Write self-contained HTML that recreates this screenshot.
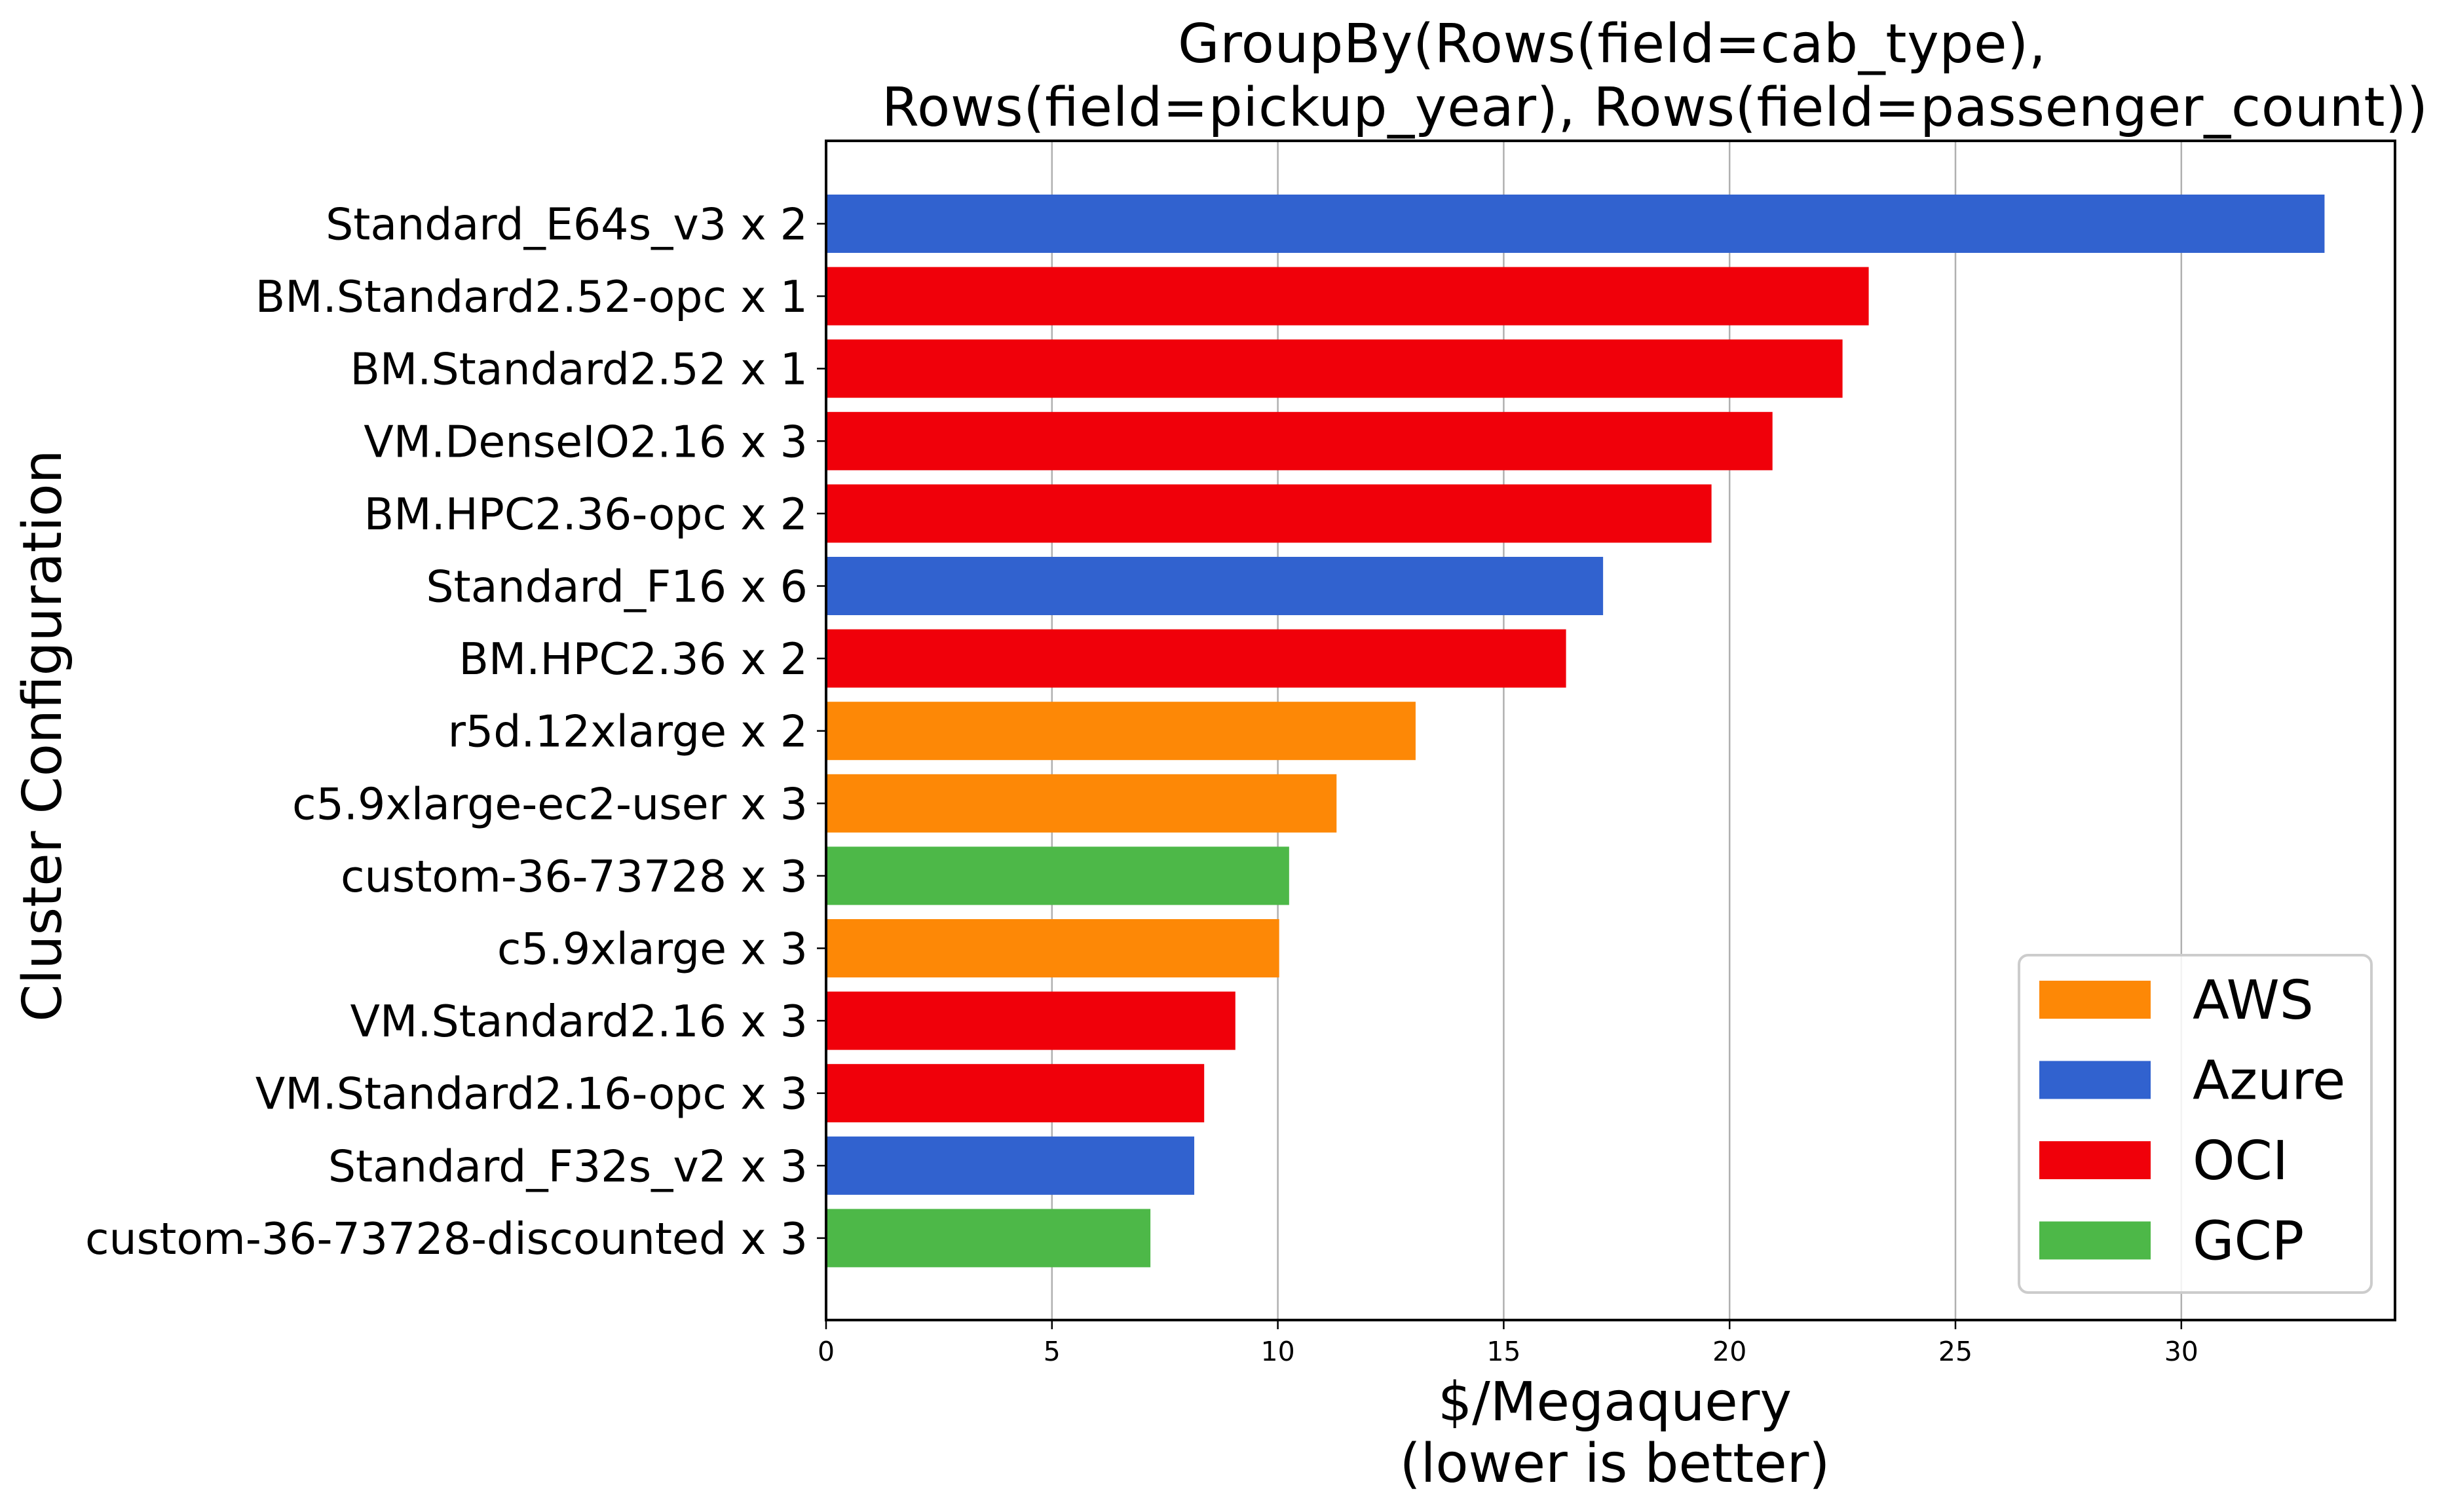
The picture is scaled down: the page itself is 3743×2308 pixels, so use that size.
<!DOCTYPE html>
<html><head><meta charset="utf-8"><style>html,body{margin:0;padding:0;background:#fff}svg{display:block}text{font-family:"DejaVu Sans","Liberation Sans",sans-serif;fill:#000}</style></head>
<body>
<svg id="chart" width="3743" height="2308" viewBox="0 0 3743 2308" xmlns="http://www.w3.org/2000/svg">
<rect width="3743" height="2308" fill="#fff"/>
<g id="grid"></g><g id="bars"></g><g id="axes"></g><g id="legend"></g>
<text x="1798" y="95" font-size="82" textLength="1325">GroupBy(Rows(field=cab_type),</text>
<text x="1346" y="192" font-size="82" textLength="2360">Rows(field=pickup_year), Rows(field=passenger_count))</text>
<text x="2465" y="2168" font-size="82" text-anchor="middle">$/Megaquery</text>
<text x="2465" y="2262" font-size="82" text-anchor="middle">(lower is better)</text>
<text x="0" y="0" font-size="82" text-anchor="middle" transform="translate(93,1123) rotate(-90)">Cluster Configuration</text>
</svg>
<script>
const categories = ["Standard_E64s_v3 x 2","BM.Standard2.52-opc x 1","BM.Standard2.52 x 1","VM.DenseIO2.16 x 3","BM.HPC2.36-opc x 2","Standard_F16 x 6","BM.HPC2.36 x 2","r5d.12xlarge x 2","c5.9xlarge-ec2-user x 3","custom-36-73728 x 3","c5.9xlarge x 3","VM.Standard2.16 x 3","VM.Standard2.16-opc x 3","Standard_F32s_v2 x 3","custom-36-73728-discounted x 3"];
const values = [33.17,23.08,22.5,20.95,19.6,17.2,16.38,13.05,11.3,10.25,10.03,9.06,8.37,8.15,7.18];
const providers = ["Azure","OCI","OCI","OCI","OCI","Azure","OCI","AWS","AWS","GCP","AWS","OCI","OCI","Azure","GCP"];
const xTicks = [0,5,10,15,20,25,30];
const legendNames = ["AWS","Azure","OCI","GCP"];
const colors = {AWS:"#FD8806",Azure:"#3162CF",OCI:"#F0000A",GCP:"#4DB848"};

const NS="http://www.w3.org/2000/svg";
const L=1261,R=3656,T=215,B=2015,XMAX=34.73;
const firstCenter=341.5, step=110.6, barH=89;
const xs=v=>L+(v/XMAX)*(R-L);
const ys=i=>firstCenter+i*step;
function mk(tag,attrs,parent){const e=document.createElementNS(NS,tag);for(const k in attrs)e.setAttribute(k,attrs[k]);parent.appendChild(e);return e;}
const grid=document.getElementById('grid'),bars=document.getElementById('bars'),axes=document.getElementById('axes'),legend=document.getElementById('legend');

xTicks.forEach(t=>{
  if(t>0){const g=mk('line',{x1:xs(t),x2:xs(t),y1:T,y2:B,stroke:'#b0b0b0','stroke-width':2.5},grid);
  
  }
  const tk=mk('line',{x1:xs(t),x2:xs(t),y1:B,y2:B+14,stroke:'#000','stroke-width':2.5},axes);
  
  
  const lb=mk('text',{x:xs(t),y:2077,'font-size':41,'text-anchor':'middle'},axes);
  lb.textContent=t;
  
  
});

categories.forEach((c,i)=>{
  const r=mk('rect',{x:L,y:ys(i)-barH/2,width:xs(values[i])-L,height:barH,fill:colors[providers[i]]},bars);
  
  
  const tk=mk('line',{x1:L-14,x2:L,y1:ys(i),y2:ys(i),stroke:'#000','stroke-width':2.5},axes);
  
  
  const lb=mk('text',{x:L-28,y:ys(i)+24,'font-size':66.5,'text-anchor':'end'},axes);
  lb.textContent=c;
  
  
});

const frame=mk('rect',{x:L,y:T,width:R-L,height:B-T,fill:'none',stroke:'#000','stroke-width':4},axes);



const box=mk('rect',{x:3082,y:1458,width:538,height:515,rx:14,fill:'#fff','fill-opacity':0.85,stroke:'#cccccc','stroke-width':4},legend);


legendNames.forEach((n,i)=>{
  const y=1497+i*122.5;
  const p=mk('rect',{x:3113,y:y,width:170,height:58,fill:colors[n]},legend);
  
  
  const t=mk('text',{x:3347,y:y+58,'font-size':82},legend);
  t.textContent=n;
  
  
});
</script>
</body></html>
